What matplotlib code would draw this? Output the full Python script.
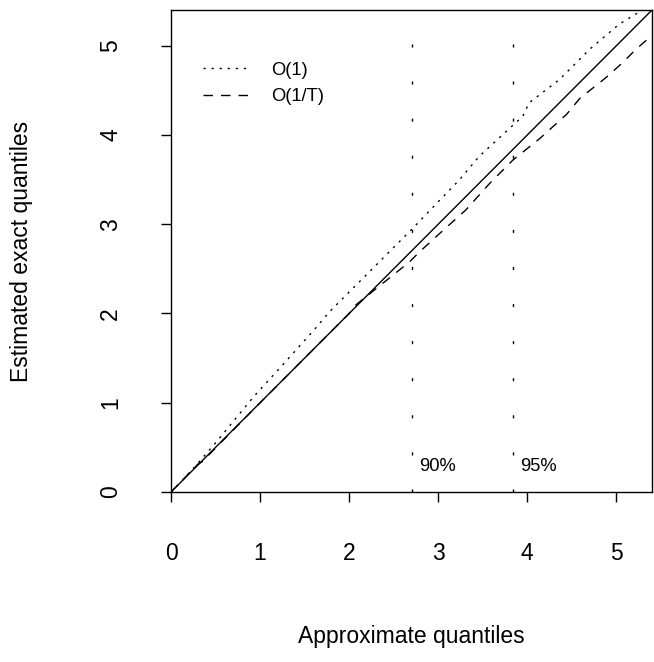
import matplotlib
matplotlib.use("Agg")
import matplotlib.pyplot as plt
import numpy as np

plt.rcParams['font.family'] = ['Liberation Sans', 'DejaVu Sans']
plt.rcParams['lines.scale_dashes'] = False

# Data
o1_x = [0.0, 0.10, 0.30, 0.50, 0.93, 1.25, 1.61, 1.78, 2.20, 2.70, 3.24, 3.46,
        3.84, 3.95, 4.02, 4.36, 4.70, 5.03, 5.26, 5.29]
o1_y = [0.0, 0.10, 0.32, 0.55, 1.07, 1.42, 1.82, 2.02, 2.44, 2.94, 3.50, 3.76,
        4.11, 4.21, 4.36, 4.62, 4.96, 5.24, 5.38, 5.40]

o1t_x = [0.0, 0.30, 0.35, 1.00, 1.50, 2.00, 2.08, 2.38, 2.68, 2.79, 3.02, 3.31,
         3.58, 3.84, 4.14, 4.44, 4.59, 4.88, 5.07, 5.22, 5.37, 5.40]
o1t_y = [0.0, 0.31, 0.34, 1.00, 1.50, 2.00, 2.10, 2.34, 2.58, 2.69, 2.90, 3.16,
         3.46, 3.72, 3.96, 4.23, 4.41, 4.64, 4.81, 4.96, 5.09, 5.12]

crit_vals = [2.706, 3.841]
crit_labels = ["90%", "95%"]
series_labels = ["O(1)", "O(1/T)"]
ticks = [0, 1, 2, 3, 4, 5]
lim = 5.4

W, H = 654, 662
fig = plt.figure(figsize=(W / 100, H / 100), dpi=100)
L, R, T, B = 171, 652, 10, 492
ax = fig.add_axes([L / W, (H - B) / H, (R - L) / W, (B - T) / H])

lw = 1.0
ax.plot([0, lim], [0, lim], color='black', lw=lw, solid_capstyle='butt')
ax.plot(o1_x, o1_y, color='black', lw=lw, linestyle=(0, (1.6, 4.2)),
        label=series_labels[0])
ax.plot(o1t_x, o1t_y, color='black', lw=lw, linestyle=(0, (6.8, 5.8)),
        label=series_labels[1])

for cv, lab in zip(crit_vals, crit_labels):
    ax.plot([cv, cv], [0, lim], color='black', lw=lw,
            linestyle=(0, (2.2, 24.5)))
    ax.text(cv + 0.08, 0.29, lab, fontsize=13.2, va='center', ha='left')

ax.set_xlim(0, lim)
ax.set_ylim(0, lim)
ax.set_xticks(ticks)
ax.set_yticks(ticks)
ax.set_xticklabels([str(t) for t in ticks])
ax.set_yticklabels([str(t) for t in ticks], rotation=90, va='center')
ax.tick_params(axis='both', direction='out', length=7.2, width=lw,
               labelsize=16.5, color='black')
ax.tick_params(axis='x', pad=29)
ax.tick_params(axis='y', pad=28)
for s in ax.spines.values():
    s.set_linewidth(lw)

leg = ax.legend(loc='upper left', bbox_to_anchor=(0.0665, 0.8925),
                frameon=False, fontsize=13.2, handlelength=2.6,
                handletextpad=1.1, borderpad=0, borderaxespad=0,
                labelspacing=0.5)

fig.text((L + R) / 2 / W, 1 - 637 / H, "Approximate quantiles",
         fontsize=16.5, ha='center', va='center')
fig.text(22 / W, 1 - (T + B) / 2 / H, "Estimated exact quantiles",
         fontsize=16.5, ha='center', va='center', rotation=90)

fig.savefig("out.png", dpi=100)
